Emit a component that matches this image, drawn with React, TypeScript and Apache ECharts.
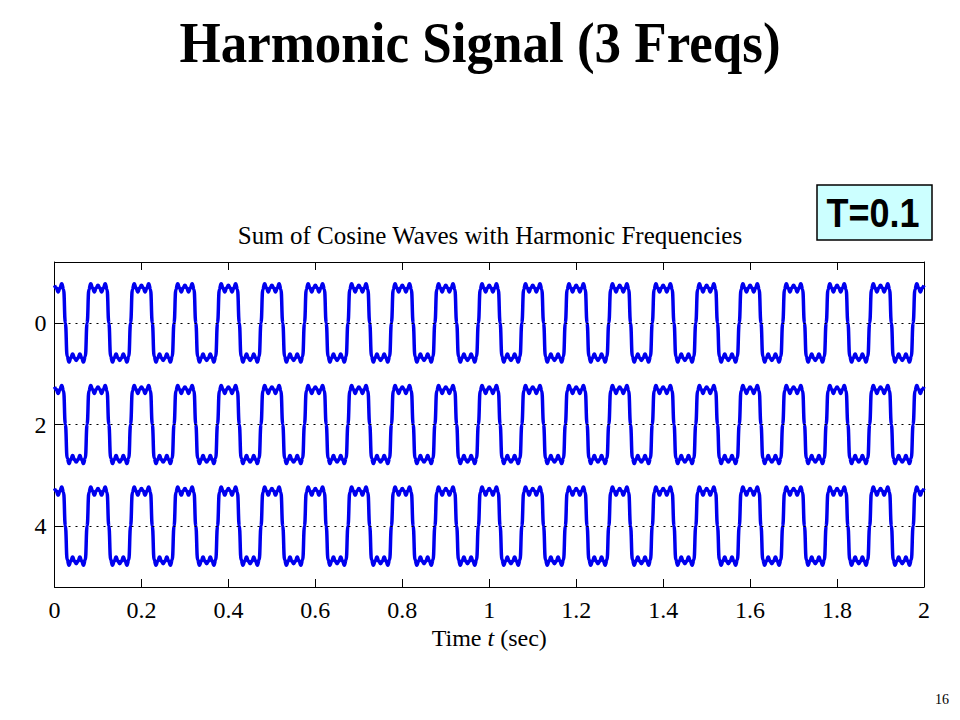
import React, { useEffect, useRef } from "react";
import * as echarts from "echarts";

// ---- data ----
const PERIOD = 0.1; // seconds (T = 0.1)
const T_START = 0;
const T_END = 2;
// one period of the harmonic signal, sampled every T/24, starting at the crest (t = 0)
// (values in axis units; the y axis is reversed so negative = upward)
const PERIOD_PROFILE = [
  -0.74, -0.69, -0.61, -0.69, -0.77, -0.66, 0, 0.66, 0.77, 0.69, 0.61, 0.69,
  0.74, 0.69, 0.61, 0.69, 0.77, 0.66, 0, -0.66, -0.77, -0.69, -0.61, -0.69,
];
const ROW_OFFSETS = [0, 2, 4];
const X_MIN = 0;
const X_MAX = 2;
const X_INTERVAL = 0.2;
const Y_MIN = -1.2;
const Y_MAX = 5.2;
const Y_TICKS = [0, 2, 4];
const GRID_LINES = [0, 2, 4];

const TITLE = "Harmonic Signal (3 Freqs)";
const SUBTITLE = "Sum of Cosine Waves with Harmonic Frequencies";
const BOX_LABEL = "T=0.1";
const PAGE_NO = "16";

function buildRow(offset: number): [number, number][] {
  const n = PERIOD_PROFILE.length;
  const periods = Math.round((T_END - T_START) / PERIOD);
  const pts: [number, number][] = [];
  for (let p = 0; p < periods; p++) {
    for (let k = 0; k < n; k++) {
      const t = T_START + ((p * n + k) * PERIOD) / n;
      pts.push([+t.toFixed(6), offset + PERIOD_PROFILE[k]]);
    }
  }
  pts.push([T_END, offset + PERIOD_PROFILE[0]]);
  return pts;
}

const SERIF = '"Liberation Serif", "Times New Roman", serif';
const SANS = '"Liberation Sans", Arial, sans-serif';

export default function App() {
  const ref = useRef<HTMLDivElement>(null);
  useEffect(() => {
    if (!ref.current) return;
    const chart = echarts.init(ref.current, undefined, { renderer: "svg" });
    const axisLine = { show: true, onZero: false, lineStyle: { color: "#000", width: 1 } };
    const tickStyle = { lineStyle: { color: "#000", width: 1 } };
    const option: any = {
      animation: false,
      backgroundColor: "#fff",
      grid: { left: 54.5, right: 36, top: 262, bottom: 133, containLabel: false },
      xAxis: [
        {
          type: "value",
          position: "bottom",
          min: X_MIN,
          max: X_MAX,
          interval: X_INTERVAL,
          axisLine,
          axisTick: { show: true, inside: true, length: 8, ...tickStyle },
          splitLine: { show: false },
          axisLabel: {
            color: "#000",
            fontSize: 24,
            fontFamily: SERIF,
            margin: 11,
            formatter: (v: number) => String(+v.toFixed(2)),
          },
          name: "Time {it|t} (sec)",
          nameLocation: "middle",
          nameGap: 39,
          nameTextStyle: {
            color: "#000",
            fontSize: 24,
            fontFamily: SERIF,
            rich: {
              it: { fontStyle: "italic", fontSize: 24, fontFamily: SERIF, color: "#000" },
            },
          },
        },
        {
          type: "value",
          position: "top",
          min: X_MIN,
          max: X_MAX,
          interval: X_INTERVAL,
          axisLine,
          axisTick: { show: true, inside: true, length: 8, ...tickStyle },
          splitLine: { show: false },
          axisLabel: { show: false },
        },
      ],
      yAxis: [
        {
          type: "value",
          position: "left",
          inverse: true,
          min: Y_MIN,
          max: Y_MAX,
          axisLine,
          axisTick: { show: true, inside: true, length: 8, customValues: Y_TICKS, ...tickStyle },
          splitLine: { show: false },
          axisLabel: {
            color: "#000",
            fontSize: 24,
            fontFamily: SERIF,
            margin: 8,
            customValues: Y_TICKS,
          },
        },
        {
          type: "value",
          position: "right",
          inverse: true,
          min: Y_MIN,
          max: Y_MAX,
          axisLine,
          axisTick: { show: true, inside: true, length: 8, customValues: Y_TICKS, ...tickStyle },
          splitLine: { show: false },
          axisLabel: { show: false },
        },
      ],
      series: [
        {
          type: "line",
          data: [],
          z: 1,
          silent: true,
          markLine: {
            silent: true,
            symbol: "none",
            label: { show: false },
            lineStyle: { color: "#000", width: 1, type: [2, 5] },
            data: GRID_LINES.map((v) => ({ yAxis: v })),
          },
        },
        ...ROW_OFFSETS.map((off) => ({
          type: "line",
          data: buildRow(off),
          z: 3,
          showSymbol: false,
          symbol: "none",
          smooth: 0.5,
          smoothMonotone: "x",
          silent: true,
          lineStyle: { color: "#0000ee", width: 3.5 },
        })),
      ],
      graphic: [
        {
          type: "text",
          x: 480,
          y: 43,
          scaleY: 1.08,
          style: {
            text: TITLE,
            fontSize: 53,
            fontWeight: "bold",
            fontFamily: SERIF,
            fill: "#000",
            align: "center",
            verticalAlign: "middle",
          },
        },
        {
          type: "text",
          x: 490,
          y: 235,
          style: {
            text: SUBTITLE,
            fontSize: 25,
            fontFamily: SERIF,
            fill: "#000",
            align: "center",
            verticalAlign: "middle",
          },
        },
        {
          type: "rect",
          shape: { x: 817, y: 185, width: 115, height: 55 },
          style: { fill: "#ccffff", stroke: "#000", lineWidth: 1.5 },
        },
        {
          type: "text",
          x: 873,
          y: 213,
          scaleY: 1.15,
          style: {
            text: BOX_LABEL,
            fontSize: 36,
            fontWeight: "bold",
            fontFamily: SANS,
            fill: "#000",
            align: "center",
            verticalAlign: "middle",
          },
        },
        {
          type: "text",
          x: 942,
          y: 699,
          style: {
            text: PAGE_NO,
            fontSize: 14,
            fontFamily: SERIF,
            fill: "#000",
            align: "center",
            verticalAlign: "middle",
          },
        },
      ],
    };
    chart.setOption(option);
    return () => chart.dispose();
  }, []);
  return (
    <div
      ref={ref}
      style={{ position: "fixed", left: 0, top: 0, width: 960, height: 720, background: "#fff" }}
    />
  );
}
